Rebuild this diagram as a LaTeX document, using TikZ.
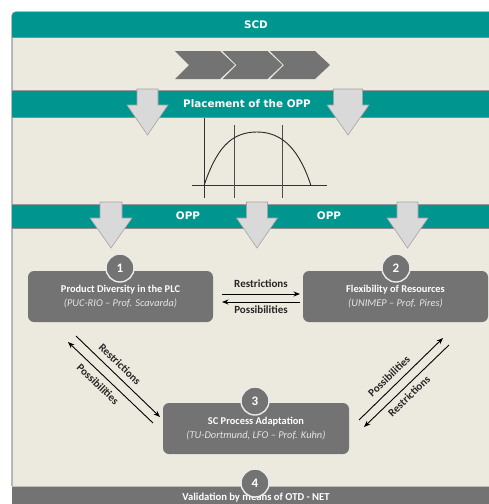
\documentclass[tikz,border=0pt]{standalone}
\usepackage{fontspec}
\setmainfont{Carlito}
\newfontfamily\bandfont{DejaVu Sans}
\usetikzlibrary{arrows.meta}
\definecolor{tealband}{HTML}{009690}
\definecolor{beige}{HTML}{ECE9DF}
\definecolor{boxgray}{HTML}{737373}
\definecolor{arrowfill}{HTML}{D9D9D9}
\definecolor{arrowedge}{HTML}{A3A3A3}
\definecolor{edgegray}{HTML}{999999}
\definecolor{subgray}{HTML}{E4E4E4}
\tikzset{
  bandtext/.style={text=white, inner sep=0pt, font=\bandfont\bfseries\fontsize{10.4}{12}\selectfont},
  procbox/.style={fill=boxgray, rounded corners=6pt, minimum width=185pt, minimum height=51pt,
    inner sep=0pt, align=center, text=white, font=\fontsize{10.4}{13.5}\selectfont},
  numcircle/.style={circle, fill=boxgray, draw=white!92!black, line width=1.4pt, minimum size=28pt,
    inner sep=0pt, text=white, font=\bfseries\fontsize{13}{14}\selectfont},
  link/.style={-{Stealth[length=6.5pt,width=5pt]}, line width=0.9pt, black},
  linklabel/.style={font=\bfseries\fontsize{11}{12}\selectfont, text=black!85, inner sep=0pt},
  blockarrow/.style={fill=arrowfill, draw=arrowedge, line width=0.6pt},
  chevron/.style={fill=boxgray},
  axisline/.style={draw=black!80, line width=0.8pt},
  gridline/.style={draw=black!70, line width=0.6pt}
}
% cx, top, shoulder, tip, shaft half width, head half width
\newcommand\blockdown[6]{%
  \draw[blockarrow] ({#1-#5},#2) -- ({#1+#5},#2) -- ({#1+#5},#3) -- ({#1+#6},#3) -- (#1,#4)
    -- ({#1-#6},#3) -- ({#1-#5},#3) -- cycle;}
\newcommand\chevshape[1]{%
  \fill[chevron] (#1,51) -- ({#1+45},51) -- ({#1+60},65) -- ({#1+45},79) -- (#1,79) -- ({#1+14},65) -- cycle;}
\begin{document}
\begin{tikzpicture}[x=1pt,y=-1pt]
\clip (0,0) rectangle (489,504);
\fill[white] (0,0) rectangle (489,504);
% panel
\fill[beige] (12,486) [rounded corners=4pt] -- (12,12) [sharp corners] -- (500,12) -- (500,486) -- cycle;
\draw[edgegray, line width=1.2pt] (12,486) [rounded corners=4pt] -- (12,12) [sharp corners] -- (500,12);
% SCD band
\fill[tealband] (12,37) [rounded corners=4pt] -- (12,12) [sharp corners] -- (500,12) -- (500,37) -- cycle;
\draw[black!45, line width=1pt] (12,37.5) -- (500,37.5);
\node[bandtext] (scd) at (256,24.5) {SCD};
% chevrons
\chevshape{175}
\chevshape{222.5}
\chevshape{270}
% placement band
\fill[tealband] (12,90) rectangle (500,117);
\draw[edgegray, line width=1pt] (12,90) -- (500,90);
\draw[black!45, line width=1pt] (12,117.5) -- (500,117.5);
\node[bandtext] (place) at (247,103.5) {Placement of the OPP};
\blockdown{147.5}{89}{105}{135}{10.5}{20.5}
\blockdown{348}{89}{105}{135}{14.5}{21}
% chart
\draw[axisline] (204,118) -- (204,198);
\draw[axisline] (192,185.7) -- (327,185.7);
\draw[gridline] (234,125) -- (234,198);
\draw[gridline] (282,125) -- (282,198);
\draw[line width=0.9pt, black!85] (204,185.7) .. controls (216,150) and (230,132) .. (257,132)
  .. controls (284,132) and (300,152) .. (311,185.7);
% OPP band
\fill[tealband] (12,204) rectangle (500,228);
\draw[edgegray, line width=1pt] (12,204) -- (500,204);
\draw[black!45, line width=1pt] (12,228.5) -- (500,228.5);
\node[bandtext] (opp1) at (188,216) {OPP};
\node[bandtext] (opp2) at (329,216) {OPP};
\blockdown{111}{202}{218}{248}{11}{21}
\blockdown{257}{202}{218}{248}{10.5}{20.5}
\blockdown{407.5}{202}{218}{248}{10.5}{20.5}
% process boxes
\node[procbox] (b1) at (120.5,296.5) {\textbf{Product Diversity in the PLC}\\{\color{subgray}\itshape (PUC-RIO – Prof. Scavarda)}};
\node[procbox] (b2) at (395.5,296.5) {\textbf{Flexibility of Resources}\\{\color{subgray}\itshape (UNIMEP – Prof. Pires)}};
\node[procbox, minimum width=186pt] (b3) at (256,428.5) {\textbf{SC Process Adaptation}\\{\color{subgray}\itshape (TU-Dortmund, LFO – Prof. Kuhn)}};
% bottom band
\fill[boxgray] (12,486) rectangle (500,520);
\draw[white!75!black, line width=0.8pt] (12,486) -- (500,486);
\node[text=white, inner sep=0pt, font=\bfseries\fontsize{10.6}{12}\selectfont] (val) at (256,497.5) {Validation by means of OTD - NET};
% number circles
\node[numcircle] (n1) at (120,268) {1};
\node[numcircle] (n2) at (396,268) {2};
\node[numcircle] (n3) at (255,401) {3};
\node[numcircle] (n4) at (255,483) {4};
% connector end points
\coordinate (h1s) at (222,294);
\coordinate (h1e) at (300,294);
\coordinate (h2s) at (300,302);
\coordinate (h2e) at (222,302);
\coordinate (la1s) at (153,423);
\coordinate (la1e) at (68,342);
\coordinate (la2s) at (76,336);
\coordinate (la2e) at (160,417);
\coordinate (ra1s) at (359,420);
\coordinate (ra1e) at (443,338);
\coordinate (ra2s) at (449,345);
\coordinate (ra2e) at (364,427);
% connectors
\draw[link] (h1s) -- (h1e);
\draw[link] (h2s) -- (h2e);
\draw[link] (la1s) -- (la1e);
\draw[link] (la2s) -- (la2e);
\draw[link] (ra1s) -- (ra1e);
\draw[link] (ra2s) -- (ra2e);
% connector labels
\node[linklabel] (lr1) at (261,284) {Restrictions};
\node[linklabel] (lp1) at (261,310) {Possibilities};
\node[linklabel, rotate=-44] (lr2) at (120,364) {Restrictions};
\node[linklabel, rotate=-44] (lp2) at (98,384) {Possibilities};
\node[linklabel, rotate=44] (lp3) at (389,376) {Possibilities};
\node[linklabel, rotate=44] (lr3) at (409,396) {Restrictions};
\end{tikzpicture}
\end{document}
